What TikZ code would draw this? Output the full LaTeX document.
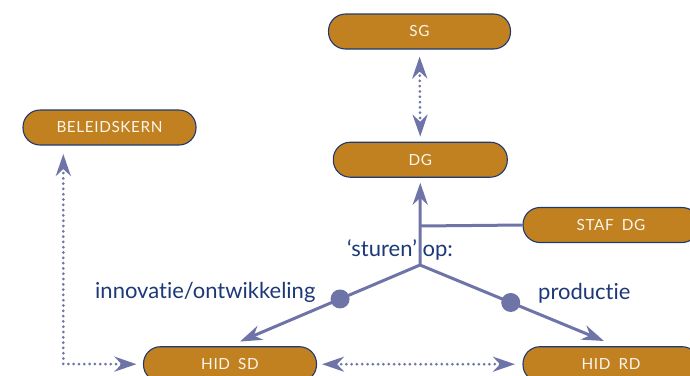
\documentclass[tikz,border=0pt]{standalone}
\usepackage{fontspec}
\setmainfont[Ligatures={NoCommon,NoDiscretionary}]{Lato}
\newfontfamily\boxfont[LetterSpace=4,WordSpace=1.8]{Lato}
\usetikzlibrary{arrows.meta}
\definecolor{ochre}{RGB}{193,129,32}
\definecolor{navy}{RGB}{30,58,115}
\definecolor{lav}{RGB}{110,116,168}
\definecolor{lbl}{RGB}{28,56,120}
\definecolor{cream}{RGB}{250,246,236}
\begin{document}
\begin{tikzpicture}[x=1pt,y=-1pt,
  >={Stealth[length=22pt,width=15pt,inset=7pt]},
  box/.style={draw=navy, line width=1.1pt, fill=ochre, rounded corners=17pt,
    minimum height=35pt, inner sep=0pt, text=cream,
    font=\boxfont\fontsize{15.3}{15.3}\selectfont},
  conn/.style={draw=lav, line width=3pt},
  dotline/.style={draw=lav, line width=3pt, line cap=round, dash pattern=on 0pt off 5.3pt},
  dot/.style={circle, fill=lav, minimum size=19pt, inner sep=0pt},
  lbl/.style={text=lbl, inner sep=0pt, font=\fontsize{22}{22}\selectfont}
]
\useasboundingbox (0,0) rectangle (690,375);
\clip (0,0) rectangle (690,375);

\node[box, minimum width=182pt] (sg) at (419.5,31.5) {SG};
\node[box, minimum width=173pt] (bk) at (109.5,127.5) {BELEIDSKERN};
\node[box, minimum width=174pt] (dg) at (420.3,159.7) {DG};
\node[box, minimum width=176pt] (staf) at (611,225) {STAF DG};
\node[box, minimum width=173pt] (sd) at (230,364.2) {HID SD};
\node[box, minimum width=176pt] (rd) at (611,364.2) {HID RD};

\coordinate (j) at (420,265);
\coordinate (t) at (420,226);
\coordinate (sdtip) at (240,341.5);
\coordinate (rdtip) at (604,341);
\coordinate (bktip) at (63.3,154);
\coordinate (corner) at (63.3,364);

\draw[conn,->,shorten >=5pt] (j) -- (dg.south);
\draw[conn] (t) -- (staf.west);
\draw[conn,->] (j) -- (sdtip);
\draw[conn,->] (j) -- (rdtip);
\path (j) -- (sdtip) node[dot, pos=0.444] (d1) {};
\path (j) -- (rdtip) node[dot, pos=0.493] (d2) {};

\node[lbl, anchor=base west] (inn) at (95,298.3) {innovatie/ontwikkeling};
\node[lbl, anchor=base west] (prod) at (538,299) {productie};
\node[lbl, anchor=base] (st) at (400,256) {‘sturen’ op:};

\draw[dotline,<->,shorten <=7pt,shorten >=5pt] (sg.south) -- (dg.north);
\draw[dotline,<->,shorten >=6.5pt] (bktip) -- (corner) -- (sd.west);
\draw[dotline,<->,shorten <=5pt,shorten >=7.5pt] (sd.east) -- (rd.west);
\end{tikzpicture}
\end{document}
